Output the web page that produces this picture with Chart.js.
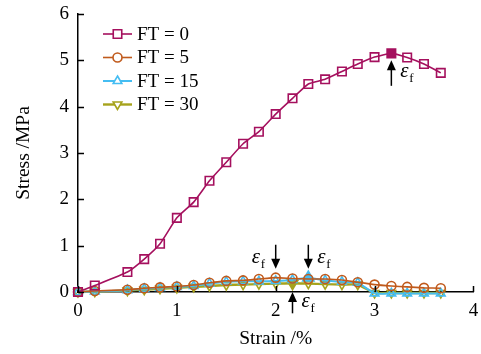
<!DOCTYPE html>
<html>
<head>
<meta charset="utf-8">
<script src="https://cdn.jsdelivr.net/npm/chart.js@4.4.1/dist/chart.umd.min.js"></script>
<style>
  html, body { margin: 0; padding: 0; background: #fff; }
  #wrap { width: 481px; height: 354px; }
</style>
</head>
<body>
<div id="wrap"><canvas id="stressChart" width="481" height="354"></canvas></div>
<script>
// Strain (%) sampled for every series
const strain = [0, 0.17, 0.5, 0.67, 0.83, 1.0, 1.17, 1.33, 1.5, 1.67, 1.83, 2.0, 2.17, 2.33, 2.5, 2.67, 2.83, 3.0, 3.17, 3.33, 3.5, 3.67];

// Stress (MPa) for each freeze-thaw count
const ft0 = [0, 0.14, 0.43, 0.71, 1.04, 1.6, 1.94, 2.4, 2.8, 3.2, 3.46, 3.84, 4.18, 4.49, 4.59, 4.76, 4.92, 5.07, 5.15, 5.06, 4.92, 4.73];
const ft5 = [0, 0.02, 0.05, 0.08, 0.1, 0.12, 0.15, 0.2, 0.24, 0.25, 0.28, 0.31, 0.29, 0.28, 0.28, 0.26, 0.21, 0.16, 0.13, 0.11, 0.09, 0.08];
const ft15 = [0, 0.01, 0.04, 0.07, 0.09, 0.11, 0.13, 0.18, 0.22, 0.23, 0.23, 0.24, 0.26, 0.31, 0.25, 0.22, 0.2, -0.03, -0.03, -0.03, -0.03, -0.03];
const ft30 = [0, 0.01, 0.03, 0.05, 0.07, 0.09, 0.11, 0.13, 0.15, 0.16, 0.17, 0.18, 0.19, 0.18, 0.17, 0.16, 0.16, -0.02, -0.02, -0.02, -0.02, -0.02];

const seriesLabels = ['FT = 0', 'FT = 5', 'FT = 15', 'FT = 30'];
// index of the failure point (filled marker) in each series, -1 = none
const peakIndex = [18, -1, 13, 12];

// Axis ticks
const xTicks = [0, 1, 2, 3, 4];
const yTicks = [0, 1, 2, 3, 4, 5, 6];

// Failure strain arrows: x, tail y, tip y, label side
const arrowX = [3.17, 2.0, 2.33, 2.17];
const arrowTail = [4.45, 1.02, 1.02, -0.46];
const arrowTip = [5.0, 0.5, 0.5, 0.0];
const labelSide = ['right', 'left', 'right', 'right'];

const colors = ['#A5105E', '#C05A1C', '#45BDF2', '#A6A31C'];
const styles = ['rect', 'circle', 'triangle', 'triangle'];
const rotations = [0, 0, 0, 180];
const radii = [6, 4.5, 5, 5];
const widths = [1.6, 1.6, 2, 2.4];
const FONT = '"Liberation Serif", "Times New Roman", serif';

function pointsOf(values) {
    return strain.map((s, i) => ({ x: s, y: values[i] }));
}

function makeDataset(i, values) {
    const fills = values.map((v, j) => j === peakIndex[i] ? colors[i] : 'rgba(0,0,0,0)');
    const sizes = values.map((v, j) => j === peakIndex[i] && i > 0 ? radii[i] + 1.5 : radii[i]);
    return {
        label: seriesLabels[i],
        data: pointsOf(values),
        borderColor: colors[i],
        backgroundColor: colors[i],
        borderWidth: widths[i],
        pointStyle: styles[i],
        pointRotation: rotations[i],
        pointRadius: sizes,
        pointBorderWidth: 1.6,
        pointBackgroundColor: fills,
        pointBorderColor: colors[i],
        tension: 0.15,
        clip: false
    };
}

// Draw inward ticks, arrows and a legend inside the plot
const extras = {
    id: 'extras',
    afterDraw(chart) {
        const ctx = chart.ctx;
        const xs = chart.scales.x;
        const ys = chart.scales.y;
        const area = chart.chartArea;
        ctx.save();

        // inward tick marks
        ctx.strokeStyle = '#000';
        ctx.lineWidth = 1.5;
        ctx.beginPath();
        xTicks.forEach(v => {
            const px = Math.round(xs.getPixelForValue(v)) + 0.5;
            ctx.moveTo(px, area.bottom);
            ctx.lineTo(px, area.bottom - 6);
        });
        yTicks.forEach(v => {
            const py = Math.round(ys.getPixelForValue(v)) + 0.5;
            ctx.moveTo(area.left, py);
            ctx.lineTo(area.left + 6, py);
        });
        ctx.stroke();

        // failure strain arrows
        arrowX.forEach((xv, i) => {
            const px = xs.getPixelForValue(xv);
            const y1 = ys.getPixelForValue(arrowTail[i]);
            const y2 = ys.getPixelForValue(arrowTip[i]);
            const dir = y2 < y1 ? -1 : 1;
            ctx.fillStyle = '#000';
            ctx.strokeStyle = '#000';
            ctx.lineWidth = 1.5;
            ctx.beginPath();
            ctx.moveTo(px, y1);
            ctx.lineTo(px, y2 - dir * 8);
            ctx.stroke();
            ctx.beginPath();
            ctx.moveTo(px, y2);
            ctx.lineTo(px - 4.5, y2 - dir * 10);
            ctx.lineTo(px + 4.5, y2 - dir * 10);
            ctx.closePath();
            ctx.fill();

            const ly = (y1 + y2) / 2 + (dir < 0 ? 4 : 6);
            const lx = labelSide[i] === 'right' ? px + 9 : px - 24;
            ctx.textBaseline = 'alphabetic';
            ctx.textAlign = 'left';
            ctx.font = 'italic 21px ' + FONT;
            ctx.fillText('\u03B5', lx, ly);
            ctx.font = '13px ' + FONT;
            ctx.fillText('f', lx + 9, ly + 5);
        });

        // legend
        chart.data.datasets.forEach((ds, i) => {
            const y = 34 + i * 23.5;
            ctx.strokeStyle = ds.borderColor;
            ctx.lineWidth = ds.borderWidth;
            ctx.beginPath();
            ctx.moveTo(103, y);
            ctx.lineTo(132, y);
            ctx.stroke();
            ctx.fillStyle = '#fff';
            ctx.strokeStyle = ds.borderColor;
            ctx.lineWidth = 1.6;
            Chart.helpers.drawPoint(ctx, {
                pointStyle: ds.pointStyle,
                rotation: ds.pointRotation,
                radius: radii[i],
                borderWidth: 1.6
            }, 117.5, y);
            ctx.fillStyle = '#000';
            ctx.font = '19px ' + FONT;
            ctx.textAlign = 'left';
            ctx.textBaseline = 'middle';
            ctx.fillText(ds.label, 137, y + 1);
        });
        ctx.restore();
    }
};

Chart.defaults.font.family = FONT;
Chart.defaults.font.size = 19;
Chart.defaults.color = '#000';

new Chart(document.getElementById('stressChart'), {
    type: 'line',
    data: {
        datasets: [
            makeDataset(0, ft0),
            makeDataset(1, ft5),
            makeDataset(2, ft15),
            makeDataset(3, ft30)
        ]
    },
    options: {
        responsive: false,
        animation: false,
        layout: { padding: { top: 14, right: 7, left: 0, bottom: 0 } },
        plugins: {
            legend: { display: false },
            tooltip: { enabled: false }
        },
        scales: {
            x: {
                type: 'linear',
                min: 0,
                max: 4,
                afterFit: (scale) => {
                    scale.height = 62;
                    scale.paddingLeft = 0;
                    scale.paddingRight = 0;
                },
                grid: { drawOnChartArea: false, drawTicks: false },
                border: { color: '#000', width: 1.5 },
                ticks: { stepSize: 1, padding: 8 },
                title: { display: true, text: 'Strain /%', font: { size: 19.5 }, padding: { top: 0, bottom: 3 } }
            },
            y: {
                min: 0,
                max: 6,
                afterFit: (scale) => {
                    scale.width = 78;
                    scale.paddingTop = 0;
                    scale.paddingBottom = 0;
                },
                grid: { drawOnChartArea: false, drawTicks: false },
                border: { color: '#000', width: 1.5 },
                ticks: { stepSize: 1, padding: 9 },
                title: { display: true, text: 'Stress /MPa', font: { size: 19.5 }, padding: { top: 12, bottom: 0 } }
            }
        }
    },
    plugins: [extras]
});
</script>
</body>
</html>
